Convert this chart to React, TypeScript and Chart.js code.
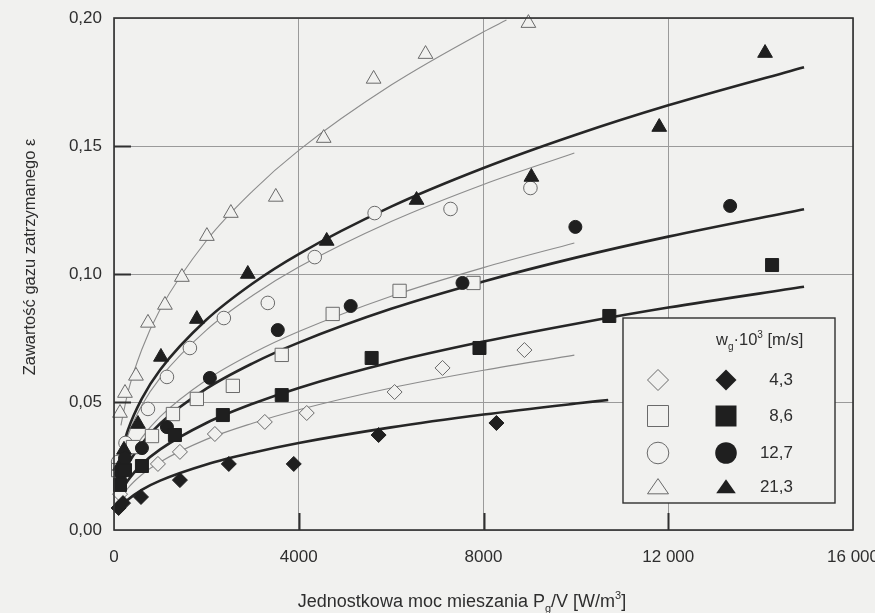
import React, { useEffect, useRef } from 'react';
import { Chart, registerables } from 'chart.js';

Chart.register(...registerables);

// ---- axis ticks ----
const xTickValues = [0, 4000, 8000, 12000, 16000];
const xTickLabels = ['0', '4000', '8000', '12 000', '16 000'];
const yTickValues = [0, 0.05, 0.1, 0.15, 0.2];
const yTickLabels = ['0,00', '0,05', '0,10', '0,15', '0,20'];
const innerTicksX = [4000, 8000, 12000];
const innerTicksY = [0.05, 0.1, 0.15];

// ---- legend ----
const seriesLabels = ['4,3', '8,6', '12,7', '21,3'];

// ---- measured points (w_g = 4,3 / 8,6 / 12,7 / 21,3 ·10^-3 m/s), open and filled ----
const od43X = [130, 951, 1427, 2184, 3265, 4173, 6075, 7113, 8886];
const od43Y = [0.014, 0.0258, 0.0305, 0.0375, 0.0422, 0.0457, 0.0539, 0.0633, 0.0703];
const fd43X = [100, 195, 584, 1427, 2486, 3892, 5729, 8280];
const fd43Y = [0.0086, 0.0105, 0.0129, 0.0195, 0.0258, 0.0258, 0.0371, 0.0418];

const os86X = [90, 411, 822, 1276, 1794, 2573, 3632, 4735, 6183, 7783];
const os86Y = [0.0234, 0.0324, 0.0367, 0.0453, 0.0512, 0.0563, 0.0684, 0.0844, 0.0934, 0.0965];
const fs86X = [130, 238, 605, 1319, 2357, 3632, 5578, 7913, 10724, 14248];
const fs86Y = [0.0176, 0.0234, 0.025, 0.0371, 0.0449, 0.0527, 0.0672, 0.0711, 0.0836, 0.1035];

const oc127X = [90, 250, 735, 1146, 1643, 2378, 3330, 4346, 5643, 7286, 9016];
const oc127Y = [0.0266, 0.034, 0.0473, 0.0598, 0.0711, 0.0828, 0.0887, 0.1066, 0.1238, 0.1254, 0.1336];
const fc127X = [150, 238, 605, 1146, 2076, 3546, 5124, 7545, 9989, 13340];
const fc127Y = [0.022, 0.028, 0.032, 0.0402, 0.0594, 0.0781, 0.0875, 0.0965, 0.1184, 0.1266];

const ot213X = [130, 238, 476, 735, 1103, 1470, 2011, 2530, 3503, 4540, 5621, 6745, 8972];
const ot213Y = [0.0457, 0.0535, 0.0602, 0.0809, 0.0879, 0.0988, 0.1148, 0.1238, 0.1301, 0.1531, 0.1762, 0.1859, 0.198];
const ft213X = [130, 216, 519, 1016, 1794, 2897, 4605, 6551, 9037, 11805, 14096];
const ft213Y = [0.025, 0.0313, 0.0414, 0.0676, 0.0824, 0.1, 0.1129, 0.1289, 0.1379, 0.1574, 0.1863];

// ---- fitted curves ----
const fitOpenX = [150, 300, 600, 1000, 2000, 3000, 4000, 6000, 8000, 9967];
const fitLongX = [150, 300, 600, 1000, 2000, 3000, 4000, 6000, 8000, 10000, 12000, 14940];
const fitFd43X = [150, 300, 600, 1000, 2000, 3000, 4000, 6000, 8000, 10000, 10700];
const fitOt213X = [150, 300, 600, 1000, 2000, 3000, 4000, 6000, 8000, 8497];

const fitOd43Y = [0.0122, 0.0163, 0.0216, 0.0266, 0.0354, 0.0417, 0.047, 0.0555, 0.0624, 0.0683];
const fitFd43Y = [0.0089, 0.0118, 0.0157, 0.0193, 0.0256, 0.0302, 0.034, 0.0401, 0.0451, 0.0494, 0.0508];
const fitOs86Y = [0.0206, 0.0272, 0.036, 0.0443, 0.0586, 0.069, 0.0775, 0.0913, 0.1025, 0.1121];
const fitFs86Y = [0.0145, 0.0193, 0.0256, 0.0315, 0.0418, 0.0493, 0.0555, 0.0655, 0.0736, 0.0806, 0.0869, 0.095];
const fitOc127Y = [0.028, 0.0369, 0.0486, 0.0594, 0.0781, 0.0916, 0.1027, 0.1205, 0.135, 0.1473];
const fitFc127Y = [0.0192, 0.0255, 0.0337, 0.0416, 0.0552, 0.0651, 0.0732, 0.0864, 0.0971, 0.1064, 0.1146, 0.1253];
const fitOt213Y = [0.0409, 0.0537, 0.0704, 0.0862, 0.113, 0.1324, 0.1483, 0.1738, 0.1946, 0.1992];
const fitFt213Y = [0.0298, 0.039, 0.0512, 0.0626, 0.0821, 0.0963, 0.1078, 0.1263, 0.1414, 0.1544, 0.1659, 0.1808];

// ---- styles ----
const PAGE = '#f1f1ef';
const TEXT = '#2e2e2e';
const DARK = '#1f1f1f';
const OPEN_STROKE = '#6a6a6a';
const THIN_LINE = '#8c8c8c';
const GRID = '#9a9a9a';
const FONT = '"Liberation Sans", Arial, sans-serif';

const pts = (xs: number[], ys: number[]) => xs.map((x, i) => ({ x, y: ys[i] }));

function openSet(label: string, xs: number[], ys: number[], style: string, r: number) {
  return {
    label, data: pts(xs, ys), pointStyle: style, pointRadius: r, pointHoverRadius: r,
    pointBackgroundColor: PAGE, pointBorderColor: OPEN_STROKE, pointBorderWidth: 1,
    showLine: false, clip: false,
  };
}
function filledSet(label: string, xs: number[], ys: number[], style: string, r: number) {
  return {
    label, data: pts(xs, ys), pointStyle: style, pointRadius: r, pointHoverRadius: r,
    pointBackgroundColor: DARK, pointBorderColor: DARK, pointBorderWidth: 1,
    showLine: false, clip: false,
  };
}
function fitSet(label: string, xs: number[], ys: number[], thick: boolean) {
  return {
    label, data: pts(xs, ys), showLine: true, pointRadius: 0, pointHoverRadius: 0,
    borderColor: thick ? '#262626' : THIN_LINE, borderWidth: thick ? 2.6 : 1.1,
    cubicInterpolationMode: 'monotone', fill: false,
  };
}

function shape(ctx: CanvasRenderingContext2D, kind: string, x: number, y: number, r: number) {
  ctx.beginPath();
  if (kind === 'diamond') {
    ctx.moveTo(x, y - r); ctx.lineTo(x + r, y); ctx.lineTo(x, y + r); ctx.lineTo(x - r, y); ctx.closePath();
  } else if (kind === 'square') {
    ctx.rect(x - r, y - r, 2 * r, 2 * r);
  } else if (kind === 'circle') {
    ctx.arc(x, y, r, 0, Math.PI * 2);
  } else {
    ctx.moveTo(x, y - r * 0.8); ctx.lineTo(x + r, y + r * 0.65); ctx.lineTo(x - r, y + r * 0.65); ctx.closePath();
  }
}

type Part = { t: string; k?: 'sub' | 'sup' };
function richWidth(ctx: CanvasRenderingContext2D, parts: Part[], size: number) {
  let w = 0;
  for (const p of parts) {
    ctx.font = `${p.k ? Math.round(size * 0.62) : size}px ${FONT}`;
    w += ctx.measureText(p.t).width;
  }
  return w;
}
function richDraw(ctx: CanvasRenderingContext2D, parts: Part[], x: number, y: number, size: number) {
  for (const p of parts) {
    const s = p.k ? Math.round(size * 0.62) : size;
    ctx.font = `${s}px ${FONT}`;
    const dy = p.k === 'sub' ? size * 0.28 : p.k === 'sup' ? -size * 0.45 : 0;
    ctx.fillText(p.t, x, y + dy);
    x += ctx.measureText(p.t).width;
  }
}

const xTitle: Part[] = [{ t: 'Jednostkowa moc mieszania P' }, { t: 'g', k: 'sub' }, { t: '/V [W/m' }, { t: '3', k: 'sup' }, { t: ']' }];
const legendTitle: Part[] = [{ t: 'w' }, { t: 'g', k: 'sub' }, { t: '\u00b710' }, { t: '3', k: 'sup' }, { t: ' [m/s]' }];
const yTitle = 'Zawartość gazu zatrzymanego ε';

const decorPlugin = {
  id: 'decor',
  beforeDraw(chart: any) {
    const { ctx, width, height } = chart;
    ctx.save();
    ctx.fillStyle = PAGE;
    ctx.fillRect(0, 0, width, height);
    ctx.restore();
  },
  afterDatasetsDraw(chart: any) {
    const { ctx, chartArea: a, scales } = chart;
    ctx.save();
    ctx.strokeStyle = '#303030';
    ctx.lineWidth = 1.6;
    ctx.strokeRect(a.left, a.top, a.right - a.left, a.bottom - a.top);
    ctx.lineWidth = 2;
    ctx.beginPath();
    for (const v of innerTicksY) {
      const y = Math.round(scales.y.getPixelForValue(v)) + 0.5;
      ctx.moveTo(a.left, y); ctx.lineTo(a.left + 17, y);
    }
    for (const v of innerTicksX) {
      const x = Math.round(scales.x.getPixelForValue(v)) + 0.5;
      ctx.moveTo(x, a.bottom); ctx.lineTo(x, a.bottom - 17);
    }
    ctx.stroke();
    ctx.restore();
  },
  afterDraw(chart: any) {
    const { ctx } = chart;
    ctx.save();
    // legend box
    const bx = 623, by = 318, bw = 212, bh = 185;
    ctx.fillStyle = PAGE;
    ctx.fillRect(bx, by, bw, bh);
    ctx.strokeStyle = '#303030';
    ctx.lineWidth = 1.4;
    ctx.strokeRect(bx, by, bw, bh);
    ctx.fillStyle = TEXT;
    ctx.textBaseline = 'alphabetic';
    ctx.textAlign = 'left';
    richDraw(ctx, legendTitle, 716, 345, 16.5);
    const kinds = ['diamond', 'square', 'circle', 'triangle'];
    const rowsY = [380, 416, 453, 487];
    const rOpen = [10.5, 10.5, 10.8, 10.5];
    kinds.forEach((k, i) => {
      const y = rowsY[i];
      shape(ctx, k, 658, y, rOpen[i]);
      ctx.fillStyle = PAGE; ctx.fill();
      ctx.strokeStyle = OPEN_STROKE; ctx.lineWidth = 1; ctx.stroke();
      shape(ctx, k, 726, y, k === 'triangle' ? 9.8 : rOpen[i]);
      ctx.fillStyle = DARK; ctx.fill();
      ctx.fillStyle = TEXT;
      ctx.font = `17px ${FONT}`;
      ctx.textAlign = 'right';
      ctx.textBaseline = 'middle';
      ctx.fillText(seriesLabels[i], 793, y);
    });
    // axis titles
    ctx.textAlign = 'left';
    ctx.textBaseline = 'alphabetic';
    ctx.fillStyle = TEXT;
    const w = richWidth(ctx, xTitle, 18);
    richDraw(ctx, xTitle, 462 - w / 2, 607, 18);
    ctx.translate(30, 257);
    ctx.rotate(-Math.PI / 2);
    ctx.font = `16.5px ${FONT}`;
    ctx.textAlign = 'center';
    ctx.textBaseline = 'middle';
    ctx.fillText(yTitle, 0, 0);
    ctx.restore();
  },
};

export default function App() {
  const ref = useRef<HTMLCanvasElement>(null);
  useEffect(() => {
    if (!ref.current) return;
    const datasets: any[] = [
      filledSet('4,3', fd43X, fd43Y, 'rectRot', 7.5),
      filledSet('8,6', fs86X, fs86Y, 'rect', 9.2),
      filledSet('12,7', fc127X, fc127Y, 'circle', 6.5),
      filledSet('21,3', ft213X, ft213Y, 'triangle', 8.5),
      openSet('4,3 open', od43X, od43Y, 'rectRot', 7.5),
      openSet('8,6 open', os86X, os86Y, 'rect', 9.4),
      openSet('12,7 open', oc127X, oc127Y, 'circle', 6.8),
      openSet('21,3 open', ot213X, ot213Y, 'triangle', 8.5),
      fitSet('fit 4,3', fitFd43X, fitFd43Y, true),
      fitSet('fit 8,6', fitLongX, fitFs86Y, true),
      fitSet('fit 12,7', fitLongX, fitFc127Y, true),
      fitSet('fit 21,3', fitLongX, fitFt213Y, true),
      fitSet('fit 4,3 open', fitOpenX, fitOd43Y, false),
      fitSet('fit 8,6 open', fitOpenX, fitOs86Y, false),
      fitSet('fit 12,7 open', fitOpenX, fitOc127Y, false),
      fitSet('fit 21,3 open', fitOt213X, fitOt213Y, false),
    ];
    const chart = new Chart(ref.current, {
      type: 'scatter',
      data: { datasets },
      options: {
        responsive: false,
        animation: false,
        events: [],
        layout: { padding: { top: 18, right: 22, left: 0, bottom: 0 } },
        plugins: { legend: { display: false }, tooltip: { enabled: false }, title: { display: false } },
        scales: {
          x: {
            type: 'linear', min: 0, max: 16000,
            afterBuildTicks: (axis: any) => { axis.ticks = xTickValues.map((v) => ({ value: v })); },
            afterFit: (scale: any) => { scale.height = 83; scale.paddingLeft = 0; scale.paddingRight = 0; },
            ticks: {
              color: TEXT, padding: 17, maxRotation: 0, autoSkip: false,
              font: { family: FONT, size: 17 },
              callback: (v: any) => xTickLabels[xTickValues.indexOf(Number(v))] ?? '',
            },
            grid: { color: GRID, lineWidth: 1, drawTicks: false },
            border: { display: false },
          },
          y: {
            type: 'linear', min: 0, max: 0.2,
            afterBuildTicks: (axis: any) => { axis.ticks = yTickValues.map((v) => ({ value: v })); },
            afterFit: (scale: any) => { scale.width = 114; scale.paddingTop = 0; scale.paddingBottom = 0; },
            ticks: {
              color: TEXT, padding: 12, autoSkip: false,
              font: { family: FONT, size: 17 },
              callback: (v: any) => {
                const i = yTickValues.findIndex((t) => Math.abs(t - Number(v)) < 1e-9);
                return i >= 0 ? yTickLabels[i] : '';
              },
            },
            grid: { color: GRID, lineWidth: 1, drawTicks: false },
            border: { display: false },
          },
        },
      },
      plugins: [decorPlugin],
    } as any);
    return () => chart.destroy();
  }, []);
  return (
    <div style={{ position: 'fixed', left: 0, top: 0, width: 875, height: 613, background: PAGE }}>
      <canvas ref={ref} width={875} height={613} style={{ display: 'block' }} />
    </div>
  );
}
